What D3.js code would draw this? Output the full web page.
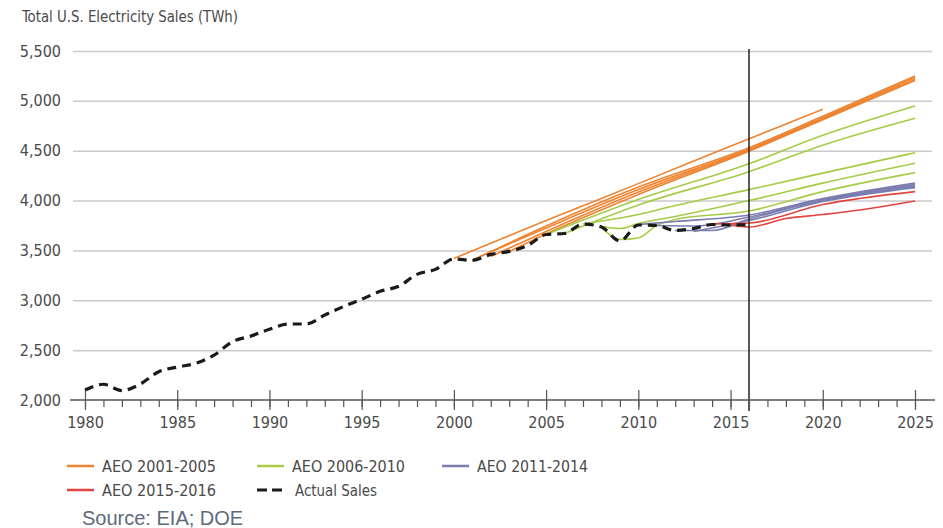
<!DOCTYPE html>
<html><head><meta charset="utf-8">
<script src="https://cdn.jsdelivr.net/npm/d3@7"></script>
<style>
body{margin:0;background:#fff;}
svg{display:block;}
</style></head>
<body>
<svg id="chart" width="943" height="528"></svg>
<script>
// ---- data ----
const title = "Total U.S. Electricity Sales (TWh)";
const source = "Source: EIA; DOE";
const yTicks = [2000, 2500, 3000, 3500, 4000, 4500, 5000, 5500];
const xMajorTicks = [1980, 1985, 1990, 1995, 2000, 2005, 2010, 2015, 2020, 2025];
const markerYear = 2016;

const actualYears = [1980,1981,1982,1983,1984,1985,1986,1987,1988,1989,1990,1991,1992,1993,1994,1995,1996,1997,1998,1999,2000,2001,2002,2003,2004,2005,2006,2007,2008,2009,2010,2011,2012,2013,2014,2015,2016];
const actualSales = [2100,2158,2095,2160,2284,2330,2368,2451,2585,2642,2709,2762,2762,2852,2936,3010,3090,3140,3260,3310,3415,3400,3460,3490,3550,3660,3670,3765,3735,3595,3755,3750,3700,3720,3760,3755,3760];

// AEO 2001-2005 projections [year, TWh]
const aeo2001 = [[2000,3420],[2005,3800],[2010,4170],[2016,4620],[2020,4915]];
const aeo2002 = [[2001,3400],[2005,3745],[2010,4135],[2016,4530],[2020,4845],[2025,5250]];
const aeo2003 = [[2001,3405],[2005,3725],[2010,4110],[2016,4515],[2020,4830],[2025,5235]];
const aeo2004 = [[2002,3440],[2005,3690],[2010,4085],[2016,4505],[2020,4820],[2025,5218]];
const aeo2005 = [[2003,3490],[2005,3665],[2010,4060],[2016,4495],[2020,4810],[2025,5205]];
// AEO 2006-2010
const aeo2006 = [[2005,3660],[2010,4010],[2016,4370],[2020,4655],[2025,4949]];
const aeo2007 = [[2006,3670],[2010,3955],[2016,4290],[2020,4555],[2025,4825]];
const aeo2008 = [[2007,3765],[2010,3860],[2012,3950],[2016,4110],[2020,4275],[2025,4480]];
const aeo2009 = [[2008,3740],[2009,3720],[2010,3770],[2012,3840],[2016,4000],[2020,4175],[2025,4374]];
const aeo2010 = [[2008,3735],[2009,3610],[2010,3625],[2011,3750],[2012,3810],[2016,3895],[2020,4090],[2025,4280]];
// AEO 2011-2014
const aeo2011 = [[2010,3760],[2012,3790],[2016,3855],[2020,4020],[2025,4175]];
const aeo2012 = [[2011,3750],[2013,3745],[2016,3835],[2020,4010],[2025,4160]];
const aeo2013 = [[2012,3700],[2014,3700],[2016,3815],[2020,4000],[2025,4145]];
const aeo2014 = [[2013,3690],[2016,3800],[2020,3990],[2025,4130]];
// AEO 2015-2016
const aeo2015 = [[2014,3765],[2016,3775],[2020,3960],[2025,4090]];
const aeo2016 = [[2015,3755],[2016,3735],[2018,3820],[2020,3860],[2022,3905],[2025,3995]];

const groups = [
  {label:"AEO 2001-2005", color:"#ee8330", series:[aeo2001,aeo2002,aeo2003,aeo2004,aeo2005]},
  {label:"AEO 2006-2010", color:"#a5cc46", series:[aeo2006,aeo2007,aeo2008,aeo2009,aeo2010]},
  {label:"AEO 2011-2014", color:"#7b7cb0", series:[aeo2011,aeo2012,aeo2013,aeo2014]},
  {label:"AEO 2015-2016", color:"#e2453f", series:[aeo2015,aeo2016]}
];

// ---- drawing ----
const svg = d3.select("#chart");
const font = "'DejaVu Sans Condensed','DejaVu Sans',sans-serif";
const textColor = "#4a4a4a";
const x = d3.scaleLinear().domain([1980, 2025]).range([85, 915]);
const y = d3.scaleLinear().domain([2000, 5500]).range([400, 51]);
const gridL = 73, gridR = 932;

svg.append("text").attr("x", 22).attr("y", 22).text(title)
  .attr("font-family", font).attr("font-stretch", "condensed").attr("font-size", 16)
  .attr("textLength", 216).attr("lengthAdjust", "spacingAndGlyphs").attr("fill", textColor);

// y grid + labels
const yAxis = d3.axisLeft(y).tickValues(yTicks).tickFormat(d3.format(","))
  .tickSize(-(gridR - gridL)).tickPadding(12);
const gy = svg.append("g").attr("transform", `translate(${gridL},0)`).call(yAxis);
gy.select(".domain").remove();
gy.selectAll(".tick line").attr("stroke", "#cacaca").attr("stroke-width", 1.5)
  .filter(d => d === 2000).remove();
gy.selectAll(".tick text").attr("font-family", font).attr("font-stretch", "condensed")
  .attr("font-size", 16).attr("fill", textColor);

// projections
const line = d3.line().x(d => x(d[0])).y(d => y(d[1])).curve(d3.curveMonotoneX);
groups.forEach(g => {
  svg.append("g").selectAll("path").data(g.series).join("path")
    .attr("d", line).attr("fill", "none").attr("stroke", g.color)
    .attr("stroke-width", 1.6).attr("stroke-linejoin", "round");
});

// actual sales
const actual = actualYears.map((yr, i) => [yr, actualSales[i]]);
svg.append("path").datum(actual).attr("d", line).attr("fill", "none")
  .attr("stroke", "#1a1a1a").attr("stroke-width", 3.2).attr("stroke-dasharray", "9,6");

// marker line 2016
svg.append("line").attr("x1", x(markerYear)).attr("x2", x(markerYear))
  .attr("y1", y(5500) - 2).attr("y2", 411).attr("stroke", "#222").attr("stroke-width", 1.5);

// x axis: minor ticks
const years = d3.range(1980, 2026);
const gMinor = svg.append("g").attr("transform", "translate(0,400)")
  .call(d3.axisBottom(x).tickValues(years).tickSize(7).tickFormat(""));
gMinor.select(".domain").remove();
gMinor.selectAll(".tick line").attr("stroke", "#555").attr("stroke-width", 1.2);

const gx = svg.append("g").attr("transform", "translate(0,400)")
  .call(d3.axisBottom(x).tickValues(xMajorTicks).tickSize(10).tickPadding(7).tickFormat(d3.format("d")));
gx.select(".domain").remove();
gx.selectAll(".tick line").attr("y1", -10).attr("stroke", "#555").attr("stroke-width", 1.2);
gx.selectAll(".tick text").attr("font-family", font).attr("font-stretch", "condensed")
  .attr("font-size", 16).attr("fill", textColor);
svg.append("line").attr("x1", 70).attr("x2", 935).attr("y1", 400).attr("y2", 400)
  .attr("stroke", "#555").attr("stroke-width", 1.5);

// legend
const legendItems = [
  {label: groups[0].label, color: groups[0].color, dash: null, lx: 67, ly: 466, w: 114},
  {label: groups[1].label, color: groups[1].color, dash: null, lx: 257, ly: 466, w: 113},
  {label: groups[2].label, color: groups[2].color, dash: null, lx: 442, ly: 466, w: 111},
  {label: groups[3].label, color: groups[3].color, dash: null, lx: 67, ly: 490, w: 114},
  {label: "Actual Sales", color: "#1a1a1a", dash: "10,5", lx: 257, ly: 490, w: 82}
];
legendItems.forEach(it => {
  svg.append("line").attr("x1", it.lx).attr("x2", it.lx + (it.dash ? 25 : 27)).attr("y1", it.ly).attr("y2", it.ly)
    .attr("stroke", it.color).attr("stroke-width", it.dash ? 3.2 : 2.5)
    .attr("stroke-dasharray", it.dash);
  svg.append("text").attr("x", it.lx + (it.dash ? 38 : 35)).attr("y", it.ly).attr("dy", "0.35em")
    .text(it.label).attr("font-family", font).attr("font-stretch", "condensed").attr("font-size", 16)
    .attr("textLength", it.w).attr("lengthAdjust", "spacingAndGlyphs").attr("fill", textColor);
});

svg.append("text").attr("x", 82).attr("y", 525).text(source)
  .attr("font-family", "'Liberation Sans',Arial,sans-serif").attr("font-size", 20).attr("fill", "#5b6b7c");
</script>
</body></html>
